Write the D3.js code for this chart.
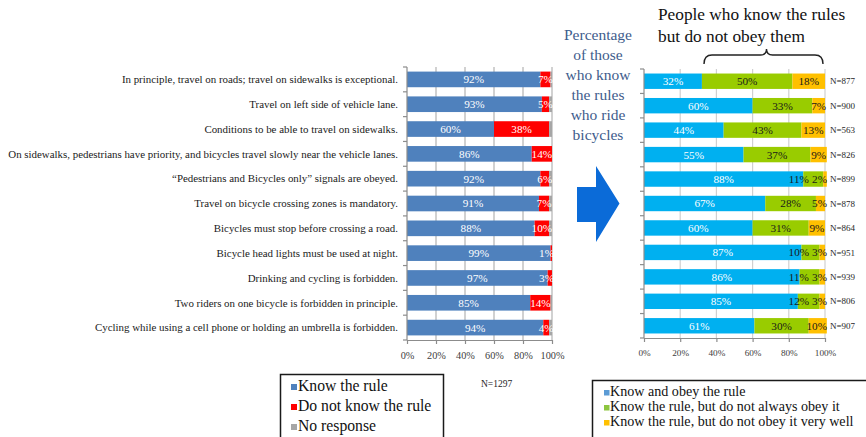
<!DOCTYPE html>
<html>
<head>
<meta charset="utf-8">
<script src="https://cdn.jsdelivr.net/npm/d3@7/dist/d3.min.js"></script>
<style>
  html, body { margin: 0; padding: 0; background: #fff; }
  svg { display: block; font-family: "Liberation Serif", "Times New Roman", serif; }
</style>
</head>
<body>
<svg id="chart" width="866" height="437"></svg>
<script>
// Rules surveyed (same order in both panels)
const rules = [
  "In principle, travel on roads; travel on sidewalks is exceptional.",
  "Travel on left side of vehicle lane.",
  "Conditions to be able to travel on sidewalks.",
  "On sidewalks, pedestrians have priority, and bicycles travel slowly near the vehicle lanes.",
  "\u201cPedestrians and Bicycles only\u201d signals are obeyed.",
  "Travel on bicycle crossing zones is mandatory.",
  "Bicycles must stop before crossing a road.",
  "Bicycle head lights must be used at night.",
  "Drinking and cycling is forbidden.",
  "Two riders on one bicycle is forbidden in principle.",
  "Cycling while using a cell phone or holding an umbrella is forbidden."
];

// Left panel: awareness of each rule (%), N=1297
const knowRule    = [92, 93, 60, 86, 92, 91, 88, 99, 97, 85, 94];
const notKnowRule = [7, 5, 38, 14, 6, 7, 10, 1, 3, 14, 4];
const noResponse  = [1, 2, 2, 0, 2, 2, 2, 0, 0, 1, 2];
const leftTotalN = "N=1297";

// Right panel: obedience among riders who know the rule (%)
const knowObey      = [32, 60, 44, 55, 88, 67, 60, 87, 86, 85, 61];
const notAlwaysObey = [50, 33, 43, 37, 11, 28, 31, 10, 11, 12, 30];
const notObeyWell   = [18, 7, 13, 9, 2, 5, 9, 3, 3, 3, 10];
const rightN = [877, 900, 563, 826, 899, 878, 864, 951, 939, 806, 907];

const tickValues = [0, 20, 40, 60, 80, 100];

const leftSeries = [
  { key: "know", label: "Know the rule", color: "#4F81BD", text: "#ffffff", values: knowRule },
  { key: "notknow", label: "Do not know the rule", color: "#FF0000", text: "#ffffff", values: notKnowRule },
  { key: "nores", label: "No response", color: "#A6A6A6", text: null, values: noResponse }
];
const rightSeries = [
  { key: "obey", label: "Know and obey the rule", color: "#00B0F0", legend: "#5B9BD5", text: "#ffffff", values: knowObey },
  { key: "notalways", label: "Know the rule, but do not always obey it", color: "#99CC00", legend: "#8DC63F", text: "#1a1a1a", values: notAlwaysObey },
  { key: "notwell", label: "Know the rule, but do not obey it very well", color: "#FFC000", legend: "#FFC000", text: "#1a1a1a", values: notObeyWell }
];

const svg = d3.select("#chart");

function rowsFor(series) {
  return rules.map((r, i) => {
    const row = { rule: r, i };
    series.forEach(s => { row[s.key] = s.values[i]; });
    return row;
  });
}

// Draws one stacked 100% bar panel
function panel(opts) {
  const { series, x0, x1, y0, y1, tickSize, labelSize, gridColor } = opts;
  const data = rowsFor(series);
  const x = d3.scaleLinear().domain([0, 100]).range([x0, x1]);
  const y = d3.scaleBand().domain(d3.range(rules.length)).range([y0, y1]).paddingInner(0.37).paddingOuter(0.185);
  const g = svg.append("g");

  // vertical gridlines
  g.append("g").selectAll("line").data(tickValues.slice(1)).join("line")
    .attr("x1", d => x(d)).attr("x2", d => x(d))
    .attr("y1", y0).attr("y2", y1)
    .attr("stroke", gridColor).attr("stroke-width", 1.2);

  const stack = d3.stack().keys(series.map(s => s.key));
  const layers = stack(data);

  layers.forEach((layer, li) => {
    const s = series[li];
    g.append("g").selectAll("rect").data(layer).join("rect")
      .attr("x", d => x(d[0]))
      .attr("y", (d, i) => y(i))
      .attr("width", d => Math.max(0, x(d[1]) - x(d[0])))
      .attr("height", y.bandwidth())
      .attr("fill", s.color);
  });

  // value labels: kept inside the plot's right edge, and nudged left
  // when they would collide with the label that follows
  data.forEach((row, i) => {
    const items = [];
    layers.forEach((layer, li) => {
      const s = series[li];
      const v = row[s.key];
      if (!s.text || v <= 0) return;
      const d = layer[i];
      const w = labelSize * (0.5 * String(v).length + 0.833);
      items.push({ cx: (x(d[0]) + x(d[1])) / 2, w, txt: v + "%", color: s.text });
    });
    const last = items[items.length - 1];
    if (last && last.cx + last.w / 2 > x1 + 2) last.cx = x1 + 2 - last.w / 2;
    for (let k = items.length - 2; k >= 0; k--) {
      const a = items[k], b = items[k + 1];
      const overlap = (a.cx + a.w / 2) - (b.cx - b.w / 2) + 3;
      if (overlap > 0) a.cx -= overlap;
    }
    items.forEach(it => {
      g.append("text")
        .attr("x", it.cx).attr("y", y(i) + y.bandwidth() / 2)
        .attr("dy", "0.35em").attr("text-anchor", "middle")
        .attr("font-size", labelSize).attr("fill", it.color)
        .text(it.txt);
    });
  });

  // category axis with tick marks at band boundaries
  g.append("line").attr("x1", x0).attr("x2", x0).attr("y1", y0).attr("y2", y1)
    .attr("stroke", "#8c8c8c").attr("stroke-width", 1.2);
  const bounds = d3.range(rules.length + 1).map(k => y0 + k * (y1 - y0) / rules.length);
  g.append("g").selectAll("line").data(bounds).join("line")
    .attr("x1", x0 - 4).attr("x2", x0).attr("y1", d => d).attr("y2", d => d)
    .attr("stroke", "#8c8c8c").attr("stroke-width", 1.2);

  // value axis
  const ax = d3.axisBottom(x).tickValues(tickValues).tickFormat(d => d + "%").tickSize(4).tickSizeOuter(0);
  const axg = g.append("g").attr("transform", `translate(0,${y1})`).call(ax);
  axg.select(".domain").attr("stroke", "#8c8c8c").attr("stroke-width", 1.2);
  axg.selectAll(".tick line").attr("stroke", "#8c8c8c").attr("stroke-width", 1.2);
  axg.selectAll(".tick text").attr("font-family", "Liberation Serif, Times New Roman, serif")
    .attr("font-size", tickSize).attr("fill", "#404040").attr("dy", "1.15em");

  return { x, y, g };
}

// ---- Left panel ----
const L = panel({ series: leftSeries, x0: 407, x1: 552, y0: 67, y1: 340, tickSize: 10.3, labelSize: 11.2, gridColor: "#b3b3b3" });
L.g.append("g").selectAll("text").data(rules).join("text")
  .attr("x", 398).attr("y", (d, i) => L.y(i) + L.y.bandwidth() / 2)
  .attr("dy", "0.35em").attr("text-anchor", "end")
  .attr("font-size", 10.9).attr("fill", "#1a1a1a")
  .text(d => d);

// ---- Right panel ----
const R = panel({ series: rightSeries, x0: 644, x1: 825, y0: 69, y1: 338, tickSize: 9.2, labelSize: 11.2, gridColor: "#d0d0d0" });
R.g.append("g").selectAll("text").data(rightN).join("text")
  .attr("x", 830).attr("y", (d, i) => R.y(i) + R.y.bandwidth() / 2)
  .attr("dy", "0.35em").attr("font-size", 9).attr("fill", "#262626")
  .text(d => "N=" + d);

// ---- Heading above the right panel, with a brace over the "not obeyed" part ----
const title = svg.append("text").attr("font-size", 17.3).attr("fill", "#111");
title.append("tspan").attr("x", 658).attr("y", 20).text("People who know the rules");
title.append("tspan").attr("x", 658).attr("y", 42).text("but do not obey them");

const bx0 = 704, bx1 = 823, bm = 766.5, by = 55, bEnd = 64, bTip = 49;
svg.append("path")
  .attr("d", `M${bx0},${bEnd} Q${bx0},${by} ${bx0 + 8},${by} L${bm - 6},${by} Q${bm},${by} ${bm},${bTip}
              Q${bm},${by} ${bm + 6},${by} L${bx1 - 8},${by} Q${bx1},${by} ${bx1},${bEnd}`)
  .attr("fill", "none").attr("stroke", "#222").attr("stroke-width", 1.4);

// ---- Caption and arrow between the panels ----
const capLines = ["Percentage", "of those", "who know", "the rules", "who ride", "bicycles"];
svg.append("g").selectAll("text").data(capLines).join("text")
  .attr("x", 598).attr("y", (d, i) => 40 + i * 20)
  .attr("text-anchor", "middle").attr("font-size", 15.5).attr("fill", "#3E5C8C")
  .text(d => d);

svg.append("path")
  .attr("d", "M577,187 L596,187 L596,166 L619.5,203.5 L596,242 L596,222 L577,222 Z")
  .attr("fill", "#0B6BD8");

// ---- Legends ----
svg.append("rect").attr("x", 280.5).attr("y", 374.5).attr("width", 163).attr("height", 80)
  .attr("fill", "#fff").attr("stroke", "#1a1a1a").attr("stroke-width", 1.5);
leftSeries.forEach((s, i) => {
  const yy = 391 + i * 20;
  svg.append("rect").attr("x", 291).attr("y", yy - 7).attr("width", 6).attr("height", 6).attr("fill", s.color);
  svg.append("text").attr("x", 298).attr("y", yy).attr("font-size", 15.7).attr("fill", "#111").text(s.label);
});
svg.append("text").attr("x", 481).attr("y", 387).attr("font-size", 9.5).attr("fill", "#262626").text(leftTotalN);

svg.append("rect").attr("x", 592.5).attr("y", 380.5).attr("width", 280).attr("height", 80)
  .attr("fill", "#fff").attr("stroke", "#1a1a1a").attr("stroke-width", 1.5);
rightSeries.forEach((s, i) => {
  const yy = 396 + i * 15;
  svg.append("rect").attr("x", 604).attr("y", yy - 6).attr("width", 5.5).attr("height", 5.5).attr("fill", s.legend);
  svg.append("text").attr("x", 610).attr("y", yy).attr("font-size", 14.1).attr("fill", "#111").text(s.label);
});
</script>
</body>
</html>
